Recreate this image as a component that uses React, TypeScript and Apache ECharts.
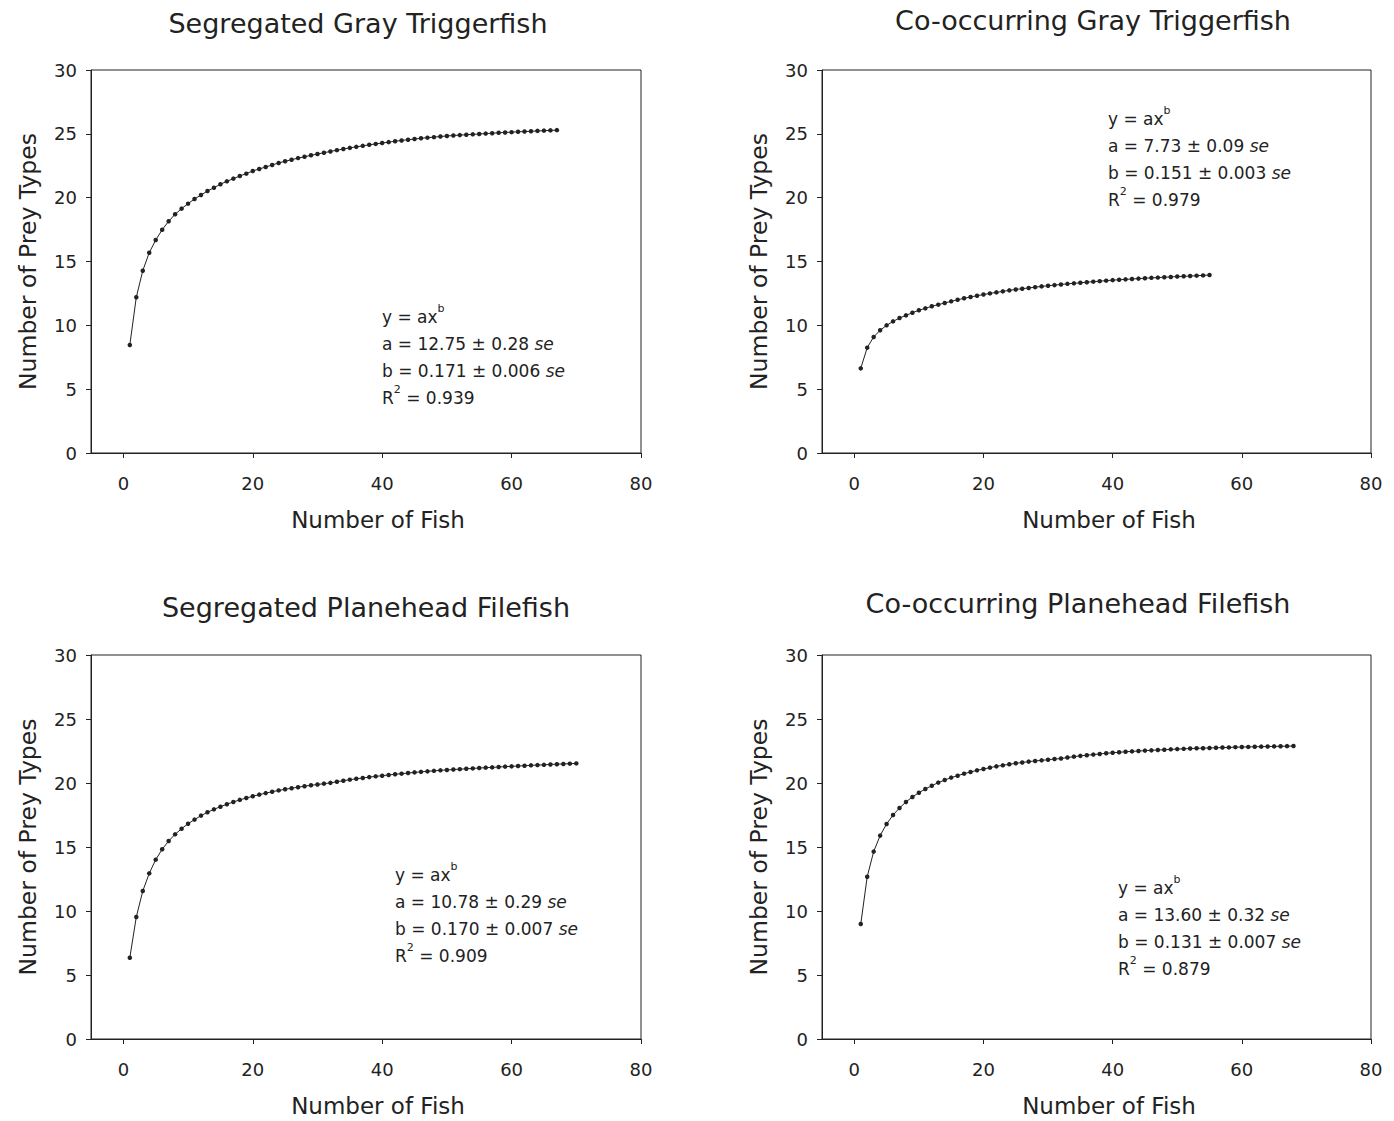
import React, { useEffect, useRef } from "react";
import * as echarts from "echarts";

const FONT = "DejaVu Sans";

const titles = [
  "Segregated Gray Triggerfish",
  "Co-occurring Gray Triggerfish",
  "Segregated Planehead Filefish",
  "Co-occurring Planehead Filefish",
];

const xTicks = [0, 20, 40, 60, 80];

// Number of prey types vs number of fish (x = 1..n)
const segGrayPrey = [
  8.46, 12.2, 14.28, 15.69, 16.68, 17.49, 18.15, 18.7, 19.14, 19.53,
  19.9, 20.21, 20.52, 20.78, 21.05, 21.28, 21.49, 21.7, 21.88, 22.09,
  22.25, 22.4, 22.56, 22.72, 22.85, 22.97, 23.1, 23.2, 23.32, 23.42,
  23.52, 23.62, 23.72, 23.81, 23.9, 23.98, 24.06, 24.14, 24.21, 24.28,
  24.35, 24.42, 24.48, 24.54, 24.59, 24.65, 24.7, 24.74, 24.79, 24.83,
  24.87, 24.9, 24.93, 24.96, 24.99, 25.02, 25.05, 25.08, 25.11, 25.13,
  25.16, 25.18, 25.2, 25.23, 25.25, 25.27, 25.29,
];

const coGrayPrey = [
  6.63, 8.25, 9.09, 9.61, 10.0, 10.31, 10.57, 10.78, 10.99, 11.18,
  11.33, 11.49, 11.62, 11.75, 11.88, 12.0, 12.12, 12.22, 12.32, 12.41,
  12.5, 12.58, 12.66, 12.74, 12.81, 12.87, 12.93, 12.99, 13.05, 13.1,
  13.15, 13.2, 13.25, 13.29, 13.33, 13.38, 13.42, 13.46, 13.5, 13.54,
  13.57, 13.6, 13.63, 13.66, 13.69, 13.72, 13.74, 13.77, 13.79, 13.82,
  13.84, 13.86, 13.89, 13.91, 13.94,
];

const segFilePrey = [
  6.35, 9.53, 11.56, 12.94, 14.01, 14.82, 15.47, 15.99, 16.43, 16.82,
  17.14, 17.45, 17.71, 17.94, 18.15, 18.34, 18.52, 18.68, 18.83, 18.96,
  19.09, 19.21, 19.32, 19.42, 19.51, 19.59, 19.67, 19.75, 19.82, 19.88,
  19.95, 20.01, 20.1, 20.18, 20.26, 20.33, 20.39, 20.46, 20.52, 20.57,
  20.63, 20.68, 20.73, 20.78, 20.83, 20.87, 20.91, 20.95, 20.99, 21.02,
  21.05, 21.08, 21.11, 21.14, 21.17, 21.2, 21.22, 21.25, 21.28, 21.3,
  21.33, 21.35, 21.38, 21.4, 21.42, 21.45, 21.47, 21.49, 21.51, 21.53,
];

const coFilePrey = [
  8.98, 12.68, 14.64, 15.89, 16.8, 17.5, 18.05, 18.52, 18.91, 19.24,
  19.53, 19.79, 20.03, 20.23, 20.42, 20.57, 20.73, 20.86, 20.99, 21.09,
  21.2, 21.3, 21.38, 21.46, 21.54, 21.6, 21.67, 21.72, 21.77, 21.82,
  21.87, 21.91, 21.99, 22.06, 22.12, 22.17, 22.22, 22.27, 22.32, 22.36,
  22.4, 22.44, 22.47, 22.5, 22.53, 22.55, 22.58, 22.6, 22.63, 22.65,
  22.67, 22.69, 22.71, 22.72, 22.74, 22.75, 22.77, 22.78, 22.8, 22.81,
  22.82, 22.83, 22.84, 22.85, 22.86, 22.87, 22.88, 22.89,
];

const preySeries = [segGrayPrey, coGrayPrey, segFilePrey, coFilePrey];

const fitA = ["12.75 \u00b1 0.28", "7.73 \u00b1 0.09", "10.78 \u00b1 0.29", "13.60 \u00b1 0.32"];
const fitB = ["0.171 \u00b1 0.006", "0.151 \u00b1 0.003", "0.170 \u00b1 0.007", "0.131 \u00b1 0.007"];
const fitR2 = ["0.939", "0.979", "0.909", "0.879"];

// layout
const grids = [
  { left: 91, top: 70, width: 550, height: 383 },
  { left: 822, top: 70, width: 549, height: 383 },
  { left: 91, top: 655, width: 550, height: 384 },
  { left: 822, top: 655, width: 549, height: 384 },
];
const titlePos = [
  { x: 358, y: 10 },
  { x: 1093, y: 7 },
  { x: 366, y: 594 },
  { x: 1078, y: 590 },
];
const xNamePos = [
  { x: 378, y: 508 },
  { x: 1109, y: 508 },
  { x: 378, y: 1094 },
  { x: 1109, y: 1094 },
];
const notePos = [
  { x: 382, y: 303 },
  { x: 1108, y: 105 },
  { x: 395, y: 861 },
  { x: 1118, y: 874 },
];

const INK = "#222";

export default function App() {
  const ref = useRef<HTMLDivElement>(null);
  useEffect(() => {
    document.body.style.margin = "0";
    const chart = echarts.init(ref.current!, null, { renderer: "svg" });
    const graphic: any[] = [];
    titles.forEach((t, i) => {
      graphic.push({
        type: "text",
        x: titlePos[i].x,
        y: titlePos[i].y,
        style: { text: t, fill: INK, font: `27px "${FONT}"`, textAlign: "center", textVerticalAlign: "top" },
      });
      graphic.push({
        type: "text",
        x: xNamePos[i].x,
        y: xNamePos[i].y,
        style: { text: "Number of Fish", fill: INK, font: `23px "${FONT}"`, textAlign: "center", textVerticalAlign: "top" },
      });
      graphic.push({
        type: "text",
        x: notePos[i].x,
        y: notePos[i].y,
        style: {
          text:
            `{n|y = ax}{sup|b}\n{n|a = ${fitA[i]} }{it|se}\n{n|b = ${fitB[i]} }{it|se}\n{n|R}{sup|2}{n| = ${fitR2[i]}}`,
          fill: INK,
          fontFamily: FONT,
          fontSize: 17,
          lineHeight: 27,
          rich: {
            n: { fontFamily: FONT, fontSize: 17, lineHeight: 27, fill: INK },
            it: { fontFamily: FONT, fontSize: 17, lineHeight: 27, fontStyle: "italic", fill: INK },
            sup: { fontFamily: FONT, fontSize: 11, lineHeight: 27, verticalAlign: "top", padding: [0, 0, 8, 0], fill: INK },
          },
        },
      });
    });

    const option: any = {
      animation: false,
      backgroundColor: "#fff",
      textStyle: { fontFamily: FONT },
      grid: grids.map((g) => ({ ...g, show: true, borderColor: INK, borderWidth: 1, containLabel: false })),
      xAxis: grids.map((_, i) => ({
        gridIndex: i,
        type: "value",
        min: -5,
        max: 80,
        axisLine: { show: true, onZero: false, lineStyle: { color: INK, width: 1 } },
        axisTick: { show: true, customValues: xTicks, length: 5, lineStyle: { color: INK } },
        axisLabel: { customValues: xTicks, fontSize: 18, color: INK, margin: 21, fontFamily: FONT },
        splitLine: { show: false },
      })),
      yAxis: grids.map((_, i) => ({
        gridIndex: i,
        type: "value",
        min: 0,
        max: 30,
        interval: 5,
        name: "Number of Prey Types",
        nameLocation: "middle",
        nameGap: 51,
        nameTextStyle: { fontSize: 23.5, color: INK, fontFamily: FONT },
        axisLine: { show: true, onZero: false, lineStyle: { color: INK, width: 1 } },
        axisTick: { show: true, length: 5, lineStyle: { color: INK } },
        axisLabel: { fontSize: 18, color: INK, margin: 14, fontFamily: FONT },
        splitLine: { show: false },
      })),
      series: preySeries.map((vals, i) => ({
        type: "line",
        xAxisIndex: i,
        yAxisIndex: i,
        data: vals.map((v, k) => [k + 1, v]),
        symbol: "circle",
        symbolSize: 4.5,
        showSymbol: true,
        itemStyle: { color: INK },
        lineStyle: { color: INK, width: 1 },
        emphasis: { disabled: true },
      })),
      graphic,
    };
    chart.setOption(option);
    return () => chart.dispose();
  }, []);
  return <div ref={ref} style={{ width: 1394, height: 1121 }} />;
}
